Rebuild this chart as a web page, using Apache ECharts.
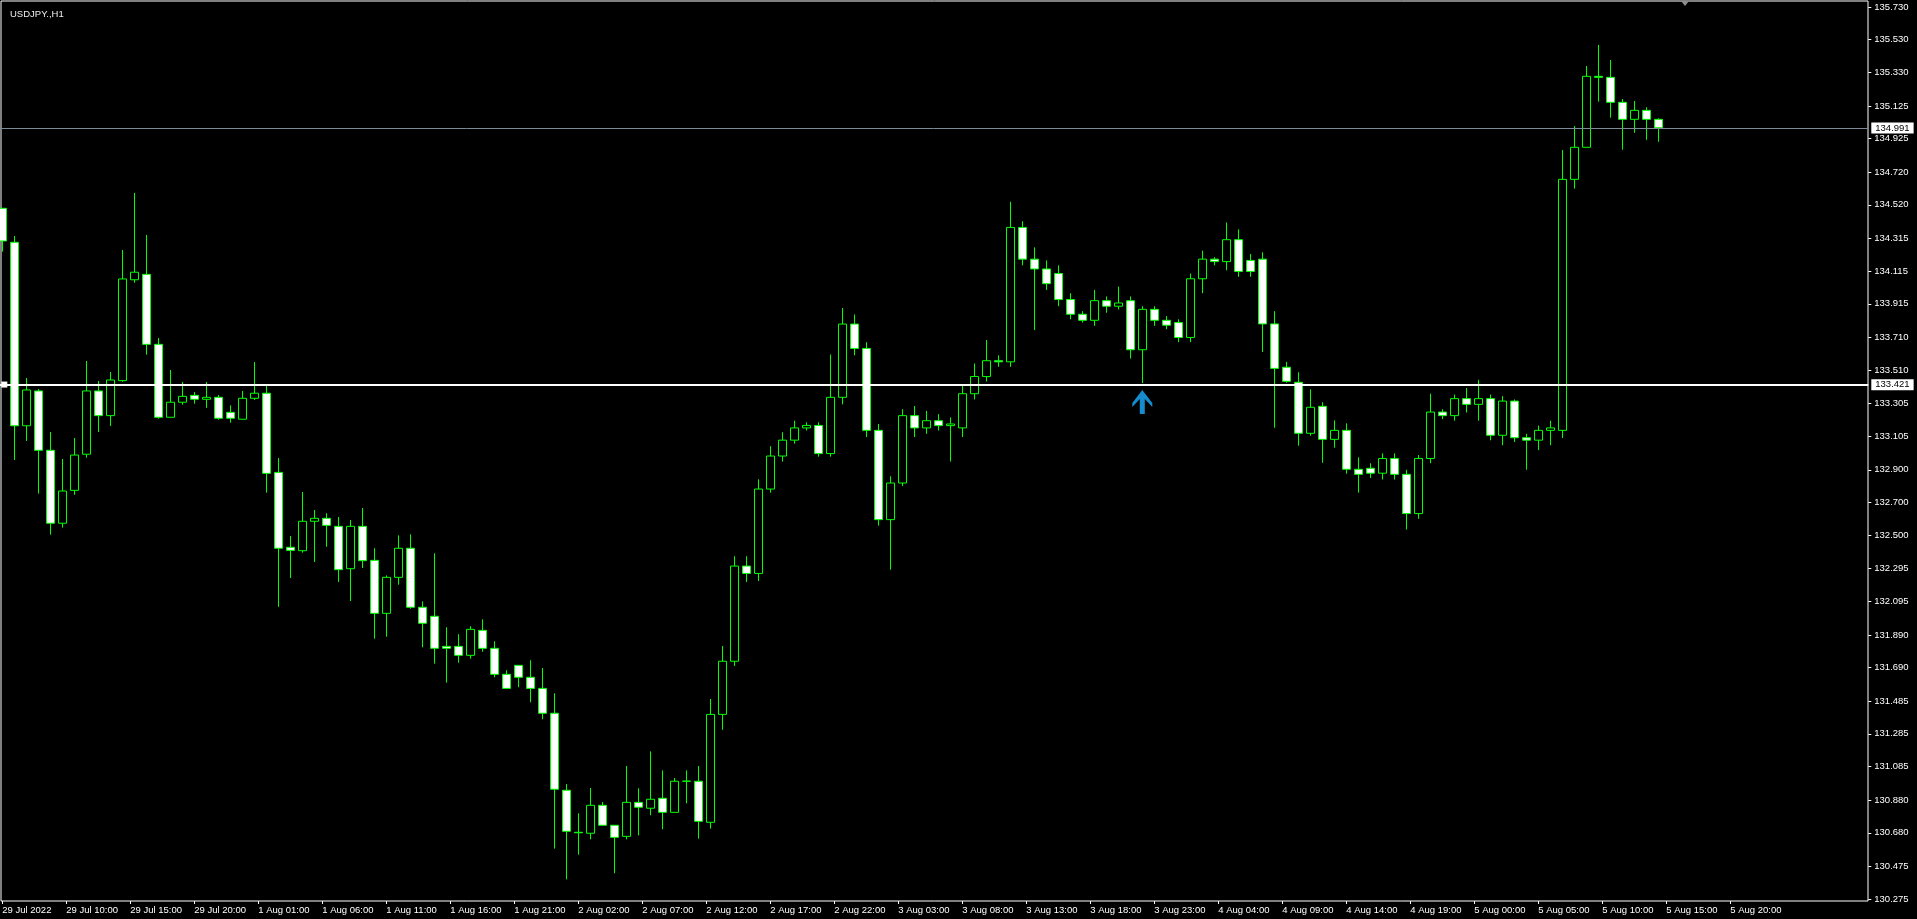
<!DOCTYPE html>
<html><head><meta charset="utf-8">
<script src="https://cdn.jsdelivr.net/npm/echarts@6/dist/echarts.min.js"></script>
<style>html,body{margin:0;padding:0;background:#000;overflow:hidden}#c{width:1917px;height:919px}</style>
</head><body><div id="c"></div>
<script>
const symbolName = 'USDJPY.,H1';
const openP = [134.499,134.291,133.169,133.382,133.019,132.573,132.774,132.995,133.382,133.231,
133.445,134.062,134.095,133.667,133.221,133.313,133.355,133.331,133.343,133.251,
133.209,133.337,133.368,132.884,132.426,132.405,132.585,132.603,132.554,132.295,
132.554,132.346,132.022,132.242,132.420,132.059,132.004,131.820,131.820,131.765,
131.918,131.808,131.649,131.704,131.631,131.563,131.411,130.940,130.683,130.677,
130.848,130.726,130.658,130.866,130.830,130.891,130.805,130.995,130.995,130.744,
131.404,131.729,132.311,132.266,132.782,132.984,133.081,133.156,133.171,132.999,
133.343,133.791,133.642,133.141,132.595,132.819,133.231,133.156,133.200,133.170,
133.156,133.365,133.470,133.567,133.560,134.382,134.188,134.128,134.100,133.941,
133.851,133.814,133.934,133.900,133.934,133.634,133.881,133.814,133.800,133.709,
134.068,134.188,134.173,134.307,134.180,134.188,133.792,133.527,133.435,133.123,
133.288,133.086,133.141,132.903,132.909,132.879,132.969,132.872,132.632,132.969,
133.253,133.231,133.335,133.300,133.335,133.111,133.320,133.096,133.081,133.141,
133.141,134.676,134.872,135.306,135.300,135.147,135.043,135.098,135.043];
const highP = [134.499,134.330,133.461,133.394,133.131,132.966,133.094,133.565,133.443,133.498,
134.244,134.593,134.336,133.706,133.510,133.437,133.375,133.437,133.357,133.294,
133.382,133.559,133.412,132.972,132.495,132.764,132.654,132.634,132.611,132.593,
132.666,132.420,132.254,132.499,132.505,132.095,132.389,131.937,131.894,131.943,
131.985,131.851,131.674,131.704,131.735,131.688,131.533,130.978,130.799,130.954,
130.868,130.726,131.088,130.952,131.178,131.062,131.015,131.062,131.088,131.498,
131.822,132.371,132.371,132.842,133.044,133.130,133.200,133.190,133.190,133.605,
133.889,133.850,133.680,133.180,132.860,133.270,133.290,133.260,133.240,133.220,
133.420,133.550,133.694,133.600,134.539,134.420,134.260,134.180,134.150,133.980,
133.870,134.000,133.960,134.020,133.960,133.900,133.900,133.840,133.820,134.100,
134.240,134.200,134.412,134.370,134.220,134.230,133.870,133.560,133.496,133.392,
133.313,133.202,133.184,132.976,132.940,133.000,133.000,132.900,132.990,133.365,
133.270,133.360,133.400,133.450,133.360,133.350,133.330,133.120,133.170,133.200,
134.855,135.002,135.369,135.498,135.406,135.167,135.155,135.117,135.049];
const lowP = [134.234,132.960,133.076,132.754,132.503,132.546,132.747,132.974,133.131,133.168,
133.438,134.044,133.604,133.212,133.221,133.298,133.304,133.279,133.206,133.188,
133.209,133.327,132.760,132.062,132.238,132.393,132.336,132.429,132.214,132.097,
132.299,131.867,131.879,132.197,132.050,131.814,131.714,131.598,131.720,131.745,
131.787,131.631,131.563,131.570,131.478,131.374,130.583,130.395,130.546,130.640,
130.726,130.432,130.640,130.664,130.787,130.701,130.805,130.860,130.644,130.705,
131.310,131.700,132.214,132.220,132.760,132.950,133.060,133.140,132.980,132.980,
133.300,133.600,133.100,132.558,132.289,132.800,133.100,133.120,133.140,132.950,
133.100,133.330,133.440,133.530,133.530,134.150,133.754,134.000,133.900,133.820,
133.800,133.780,133.860,133.880,133.580,133.430,133.780,133.760,133.680,133.680,
133.980,134.150,134.120,134.080,134.080,133.620,133.157,133.432,133.047,133.108,
132.943,133.035,132.876,132.760,132.850,132.840,132.840,132.535,132.600,132.940,
133.210,133.200,133.250,133.200,133.080,133.050,133.070,132.900,133.020,133.050,
133.094,134.619,134.872,135.151,135.053,134.857,134.961,134.918,134.906];
const closeP = [134.299,133.169,133.388,133.019,132.573,132.770,132.990,133.382,133.231,133.449,
134.067,134.108,133.667,133.221,133.313,133.349,133.331,133.343,133.215,133.215,
133.337,133.368,132.878,132.420,132.407,132.585,132.603,132.560,132.289,132.554,
132.344,132.022,132.242,132.420,132.059,131.961,131.808,131.808,131.765,131.924,
131.808,131.649,131.563,131.631,131.563,131.411,130.946,130.689,130.680,130.848,
130.726,130.652,130.866,130.836,130.885,130.805,130.995,130.996,130.750,131.404,
131.729,132.311,132.266,132.782,132.984,133.081,133.156,133.171,132.999,133.343,
133.791,133.642,133.141,132.595,132.819,133.231,133.156,133.200,133.170,133.180,
133.365,133.470,133.567,133.560,134.382,134.188,134.128,134.038,133.941,133.851,
133.814,133.934,133.900,133.920,133.634,133.881,133.814,133.784,133.709,134.068,
134.188,134.173,134.307,134.113,134.113,133.792,133.520,133.441,133.123,133.282,
133.086,133.141,132.903,132.872,132.879,132.969,132.872,132.632,132.969,133.253,
133.231,133.335,133.300,133.335,133.111,133.320,133.096,133.081,133.141,133.156,
134.676,134.872,135.306,135.300,135.147,135.043,135.098,135.043,134.991];
const priceTickLabels = ['135.730','135.530','135.330','135.125','134.925','134.720','134.520','134.315',
'134.115','133.915','133.710','133.510','133.305','133.105','132.900','132.700','132.500','132.295',
'132.095','131.890','131.690','131.485','131.285','131.085','130.880','130.680','130.475','130.275'];
const timeLabels = ['29 Jul 2022','29 Jul 10:00','29 Jul 15:00','29 Jul 20:00','1 Aug 01:00','1 Aug 06:00',
'1 Aug 11:00','1 Aug 16:00','1 Aug 21:00','2 Aug 02:00','2 Aug 07:00','2 Aug 12:00','2 Aug 17:00',
'2 Aug 22:00','3 Aug 03:00','3 Aug 08:00','3 Aug 13:00','3 Aug 18:00','3 Aug 23:00','4 Aug 04:00',
'4 Aug 09:00','4 Aug 14:00','4 Aug 19:00','5 Aug 00:00','5 Aug 05:00','5 Aug 10:00','5 Aug 15:00','5 Aug 20:00'];
const bidPrice = 134.991;
const levelPrice = 133.421;
const arrowSignals = [{bar: 95, price: 133.314}];

const FONT = 'Liberation Sans';
const slotCount = 156;
const candleCats = Array.from({length: slotCount}, (_, i) => String(i));
const candleData = openP.map((o, i) => [o, closeP[i], lowP[i], highP[i]]);
const tickVals = priceTickLabels.map(Number);
const timeCats = [];
timeLabels.forEach((t, k) => { timeCats.push(t); if (k < timeLabels.length - 1) for (let j = 0; j < 4; j++) timeCats.push(''); });

const boxLabel = (txt) => ({show: true, position: 'end', distance: 3, formatter: () => txt,
  backgroundColor: '#ffffff', color: '#000000', padding: [1, 4, 0, 4], fontSize: 9.5, fontFamily: FONT});

const chart = echarts.init(document.getElementById('c'), null, {renderer: 'canvas'});
chart.setOption({
  animation: false,
  backgroundColor: '#000000',
  title: {text: symbolName, left: 5, top: 4, textStyle: {color: '#eeeeee', fontSize: 9.5, fontWeight: 'normal', fontFamily: FONT}},
  grid: [
    {left: -3.7, top: 7, width: 1872, height: 892, outerBoundsMode: 'none', containLabel: false},
    {left: 2.3, top: 1, width: 1728, bottom: 18, outerBoundsMode: 'none', containLabel: false},
    {left: 1, top: 1, right: 49, bottom: 18, show: true, borderColor: '#ffffff', borderWidth: 1, backgroundColor: 'transparent', outerBoundsMode: 'none', containLabel: false}
  ],
  xAxis: [
    {type: 'category', gridIndex: 0, data: candleCats, boundaryGap: true, show: false},
    {type: 'category', gridIndex: 1, data: timeCats, boundaryGap: false, position: 'bottom',
      axisLine: {show: false},
      axisTick: {show: true, interval: 4, length: 3, lineStyle: {color: '#ffffff', width: 1}},
      axisLabel: {show: true, interval: 4, align: 'left', margin: 4, color: '#ffffff', fontSize: 9.5, fontFamily: FONT},
      splitLine: {show: false}},
    {type: 'value', gridIndex: 2, show: false}
  ],
  yAxis: [
    {type: 'value', gridIndex: 0, min: 130.275, max: 135.730, position: 'right', scale: true,
      axisLine: {show: false},
      axisTick: {show: true, customValues: tickVals, length: 3, lineStyle: {color: '#ffffff', width: 1}},
      axisLabel: {show: true, customValues: tickVals, margin: 6, color: '#ffffff', fontSize: 9.5, fontFamily: FONT,
        formatter: v => Number(v).toFixed(3)},
      splitLine: {show: false}},
    {type: 'value', gridIndex: 1, show: false},
    {type: 'value', gridIndex: 2, show: false}
  ],
  graphic: [
    {type: 'polygon', shape: {points: [[1681, 1], [1689, 1], [1685, 6]]}, style: {fill: '#8c8c8c'}}
  ],
  series: [
    {type: 'candlestick', xAxisIndex: 0, yAxisIndex: 0, data: candleData, barWidth: 8,
      itemStyle: {color: '#000000', color0: '#ffffff', borderColor: '#00ff00', borderColor0: '#00ff00', borderColorDoji: '#00ff00', borderWidth: 1},
      markLine: {silent: true, animation: false, symbol: ['none', 'none'],
        data: [
          {yAxis: bidPrice, lineStyle: {color: '#7d8b99', width: 1, type: 'solid'}, label: boxLabel(bidPrice.toFixed(3))},
          {yAxis: levelPrice, symbol: ['rect', 'rect'], symbolSize: 6, lineStyle: {color: '#ffffff', width: 2, type: 'solid'}, label: boxLabel(levelPrice.toFixed(3))}
        ]},
      markPoint: {silent: true, animation: false, symbol: 'rect', symbolSize: 6, symbolOffset: [2, 0],
        itemStyle: {color: '#ffffff'}, label: {show: false},
        data: [{coord: [0, levelPrice]}]}
    },
    {type: 'scatter', xAxisIndex: 0, yAxisIndex: 0, data: arrowSignals.map(a => [a.bar, a.price]),
      symbol: 'path://M10,0 L20,13 L20,17 L12.5,9 L12.5,24 L7.5,24 L7.5,9 L0,17 L0,13 Z', symbolSize: [20, 24],
      itemStyle: {color: '#1ab0ff'}, silent: true, z: 5}
  ]
});
</script></body></html>
